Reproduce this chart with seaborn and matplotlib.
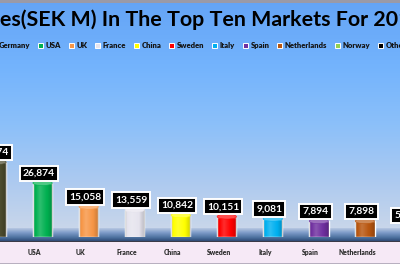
import numpy as np
import matplotlib
matplotlib.use("Agg")
import matplotlib.pyplot as plt
import seaborn as sns
from matplotlib.patches import Patch, Ellipse, Rectangle
from matplotlib.colors import to_rgb
from matplotlib.transforms import ScaledTranslation

# ---------------- data ----------------
markets = ["Germany", "USA", "UK", "France", "China", "Sweden", "Italy",
           "Spain", "Netherlands", "Norway", "Others"]
sales = [37274, 26874, 15058, 13559, 10842, 10151, 9081, 7894, 7898, 5950, 30000]
bar_colors = ["#4b4a2c", "#00b050", "#f79646", "#e6e4ee", "#ffff00", "#ff0000",
              "#00b0f0", "#7030a0", "#b8560f", "#92d050", "#000000"]
title_text = "Sales(SEK M) In The Top Ten Markets For 2014"
visible_title = "es(SEK M) In The Top Ten Markets For 20"

W, H = 400, 266
sns.set_theme(style="white")
plt.rcParams["font.family"] = ["Lato", "DejaVu Sans"]

fig = plt.figure(figsize=(W / 100, H / 100), dpi=100)

# ---------------- background (pixel coordinates) ----------------
bg = fig.add_axes([0, 0, 1, 1], zorder=0)
bg.axis("off")

def vgrad(y0, y1, stops):
    ys = np.linspace(0, 1, 200)
    pos = [s[0] for s in stops]
    cols = np.array([to_rgb(s[1]) for s in stops])
    arr = np.stack([np.interp(ys, pos, cols[:, k]) for k in range(3)], axis=-1)
    arr = arr[:, None, :]
    bg.imshow(arr, extent=(0, W, y1, y0), aspect="auto", interpolation="bilinear")

vgrad(0, 228, [(0, "#64a4f6"), (0.3, "#74b4fd"), (0.55, "#8cc0f9"),
               (0.8, "#adcaf0"), (1, "#c8d6ea")])
vgrad(228, 241, [(0, "#b8c8e2"), (0.35, "#7e9cc8"), (0.75, "#4a6e9c"), (1, "#2e4a74")])
bg.add_patch(Rectangle((0, 240.5), W, 1.8, color="#3a3a48", lw=0))
bg.add_patch(Rectangle((0, 242.3), W, 20.5, color="#f6e9f6", lw=0))
bg.add_patch(Rectangle((0, 262.8), W, 1.2, color="#b8b0c0", lw=0))
bg.add_patch(Rectangle((0, 264), W, 2, color="#ffffff", lw=0))
bg.add_patch(Rectangle((0, 0), W, 2.5, color="#9a9aa8", lw=0))
bg.set_xlim(0, W)
bg.set_ylim(H, 0)

# ---------------- bar axes ----------------
px_per_unit = 54.0 / 26874.0
base_px, top_px = 237, 60
ax = fig.add_axes([0, (H - base_px) / H, 1, (base_px - top_px) / H], zorder=2)
ax.patch.set_alpha(0)

sns.barplot(x=markets, y=sales, hue=markets, palette=bar_colors, legend=False,
            width=0.42, saturation=1, ax=ax, zorder=3)

spacing = 46.05
c0 = -3.5
ax.set_xlim(-c0 / spacing, (W - c0) / spacing)
ax.set_ylim(0, (base_px - top_px) / px_per_unit)
for s in ax.spines.values():
    s.set_visible(False)
ax.set_yticks([])
ax.set_xlabel("")
ax.set_ylabel("")
ax.tick_params(axis="x", length=0, pad=8.8, labelsize=4.9, labelcolor="#303030")
for lab in ax.get_xticklabels():
    lab.set_fontweight("heavy")
    lab.set_transform(lab.get_transform() +
                      ScaledTranslation(-8 / 100, 0, fig.dpi_scale_trans))

# cylinder shading
ell_h = 5.0 / px_per_unit
shade = np.linspace(0, 1, 64)
for patch, col in zip(ax.patches, bar_colors):
    x, w, h = patch.get_x(), patch.get_width(), patch.get_height()
    rgba = np.zeros((1, 64, 4))
    prof = np.interp(shade, [0, 0.12, 0.35, 0.7, 1], [0.15, 0.0, -0.18, 0.0, 0.2])
    rgba[0, :, :3] = np.where(prof[:, None] < 0, 1.0, 0.0)
    rgba[0, :, 3] = np.abs(prof)
    im = ax.imshow(rgba, extent=(x, x + w, 0, h), aspect="auto", zorder=4,
                   interpolation="bilinear")
    im.set_clip_path(patch)
    light = tuple(0.7 * np.array(to_rgb(col)) + 0.3)
    ax.add_patch(Ellipse((x + w / 2, h), w, ell_h, facecolor=light,
                         edgecolor=to_rgb(col), lw=0.4, zorder=5))
    ax.add_patch(Ellipse((x + w / 2, 0), w, ell_h, facecolor=col, lw=0, zorder=2.9))

# value labels
for patch, v in zip(ax.patches, sales):
    x, w, h = patch.get_x(), patch.get_width(), patch.get_height()
    ax.annotate(f"{v:,}", (x + w / 2, h), xytext=(-2.5, 7.0), textcoords="offset points",
                ha="center", va="center", color="white", fontsize=7.4, fontweight="bold",
                zorder=6, annotation_clip=False,
                bbox=dict(boxstyle="square,pad=0.3", fc="black", ec="white", lw=1.4))

# ---------------- legend ----------------
handles = [Patch(facecolor=c, edgecolor="white", lw=0.7) for c in bar_colors]
fig.legend(handles, markets, ncol=len(markets), loc="center left",
           bbox_to_anchor=(-9.0 / W, 1 - 46 / H), frameon=False,
           prop={"family": ["Lato", "DejaVu Sans"], "weight": "heavy", "size": 5.5},
           handlelength=0.65, handleheight=0.65, handletextpad=0.35,
           columnspacing=1.02, borderpad=0, borderaxespad=0,
           labelcolor="#141414")

# ---------------- title ----------------
fig.canvas.draw()
r = fig.canvas.get_renderer()
probe = fig.text(0, 0, visible_title, fontsize=20, fontweight="bold")
wv = probe.get_window_extent(r).width
probe.remove()
fs = 20 * 398.0 / wv
prefix = title_text[: title_text.index(visible_title)]
probe = fig.text(0, 0, prefix + "e", fontsize=fs, fontweight="bold")
probe2 = fig.text(0, 0, "e", fontsize=fs, fontweight="bold")
wp = probe.get_window_extent(r).width - probe2.get_window_extent(r).width
probe.remove(); probe2.remove()
fig.text(-wp / W, 1 - 26 / H, title_text, fontsize=fs, fontweight="bold",
         color="black", ha="left", va="baseline")

fig.savefig("out.png", dpi=100)
